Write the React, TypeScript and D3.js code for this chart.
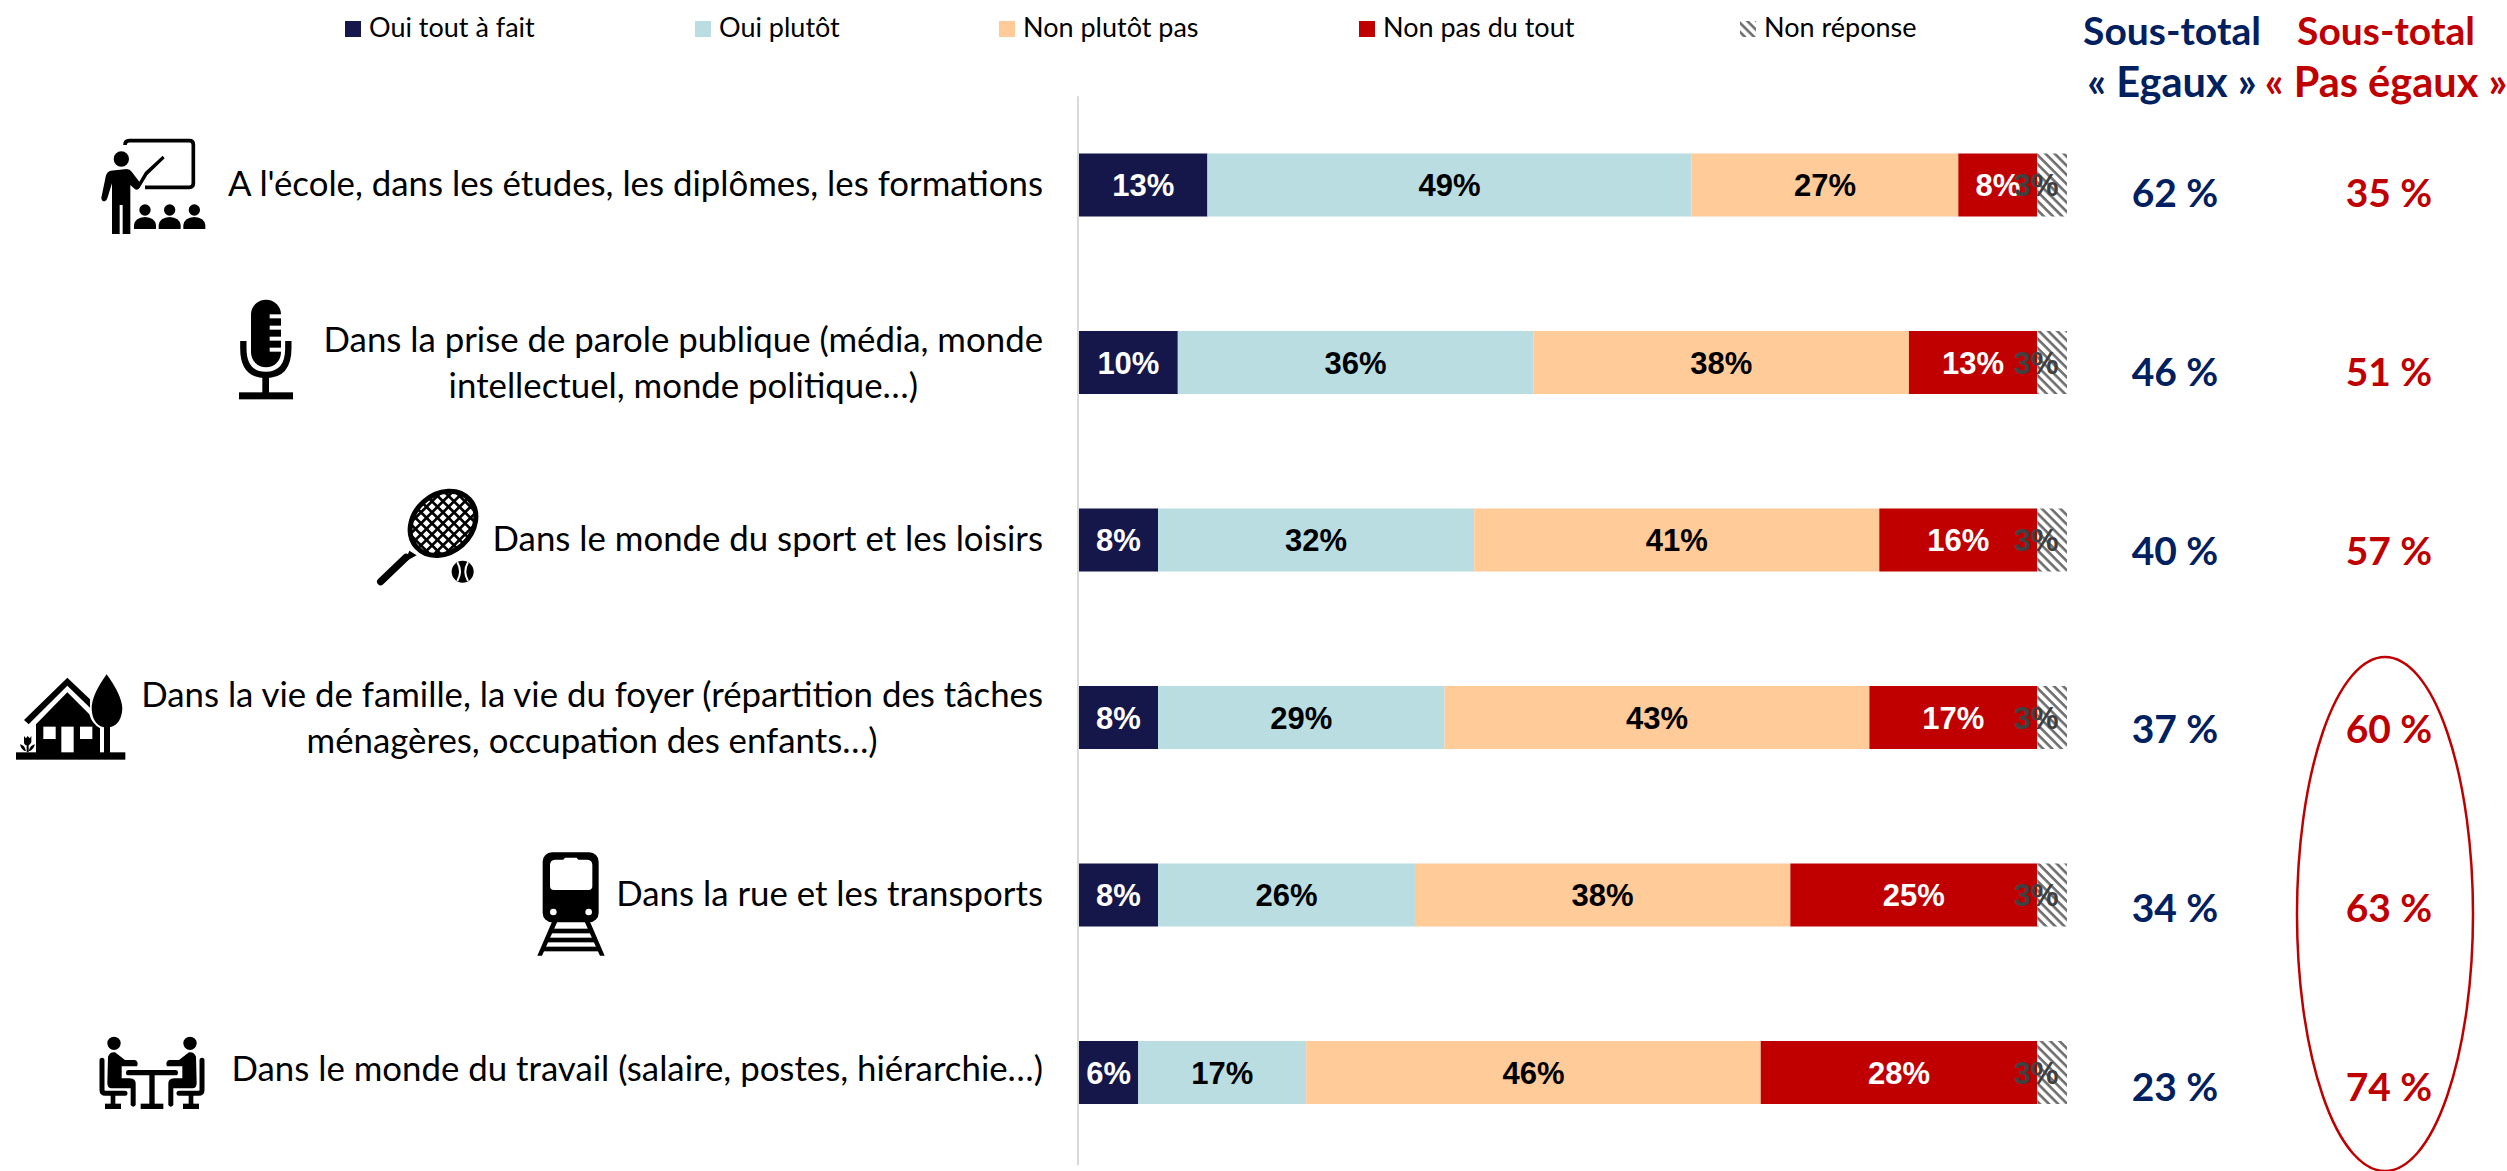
import React, { useEffect, useRef } from 'react';
import * as d3 from 'd3';

const WIDTH = 2507, HEIGHT = 1171;

const categories = ['ecole', 'parole', 'sport', 'famille', 'rue', 'travail'];
const categoryLines = [
  ["A l'école, dans les études, les diplômes, les formations"],
  ['Dans la prise de parole publique (média, monde', 'intellectuel, monde politique…)'],
  ['Dans le monde du sport et les loisirs'],
  ['Dans la vie de famille, la vie du foyer (répartition des tâches', 'ménagères, occupation des enfants…)'],
  ['Dans la rue et les transports'],
  ['Dans le monde du travail (salaire, postes, hiérarchie…)'],
];

const seriesKeys = ['ouiTout', 'ouiPlutot', 'nonPlutot', 'nonPas', 'nr'];
const seriesNames = ['Oui tout à fait', 'Oui plutôt', 'Non plutôt pas', 'Non pas du tout', 'Non réponse'];

const ouiTout = [13, 10, 8, 8, 8, 6];
const ouiPlutot = [49, 36, 32, 29, 26, 17];
const nonPlutot = [27, 38, 41, 43, 38, 46];
const nonPas = [8, 13, 16, 17, 25, 28];
const nonReponse = [3, 3, 3, 3, 3, 3];

const sousTotalEgaux = [62, 46, 40, 37, 34, 23];
const sousTotalPasEgaux = [35, 51, 57, 60, 63, 74];

const NAVY = '#15174B', BLUE_TXT = '#002060', RED = '#C00000';
const fills = [NAVY, '#B9DDE0', '#FFCB99', RED, 'url(#hatch)'];
const labelColors = ['#fff', '#000', '#000', '#fff', '#404040'];
const singleLineNudge = [1, 0, 1, 0, 1, -1.5];

const SANS = 'Lato, sans-serif';
const ARIAL = '"Liberation Sans", Arial, sans-serif';

// pictos : coordonnées locales, échelle 1/3
const Teacher = () => (
  <g>
    <path d="M105 45Q105 32 118 32H298Q310 32 310 44V160Q310 172 298 172H165" fill="none" stroke="#000" strokeWidth="11" />
    <circle cx="94" cy="87" r="23" />
    <path d="M62 122Q50 125 47 140L34 203Q34 214 44 214Q50 212 52 205L66 160V312H89V225H98V312H121V165L135 178Q145 182 150 172L172 135L224 85L218 77L165 126L148 155L125 125Q120 117 110 117Z" />
    {[165, 239, 313].map(x => (
      <g key={x}>
        <circle cx={x} cy="240" r="17" />
        <path d={`M${x - 33} 297V285Q${x - 30} 263 ${x} 261Q${x + 30} 263 ${x + 33} 285V297Z`} />
      </g>
    ))}
  </g>
);

const Mic = () => (
  <g>
    <rect x="78" y="14" width="90" height="203" rx="45" />
    {[58, 92, 125, 158].map(y => <rect key={y} x="134" y={y} width="36" height="12" fill="#fff" />)}
    <path d="M55 138V160Q55 240 122 240Q190 240 190 160V138" fill="none" stroke="#000" strokeWidth="19" />
    <rect x="112" y="245" width="20" height="50" />
    <rect x="42" y="292" width="162" height="21" />
  </g>
);

const Racket = () => (
  <g>
    <clipPath id="racketHead"><ellipse cx="219" cy="130" rx="107" ry="87" transform="rotate(-42 219 130)" /></clipPath>
    <ellipse cx="219" cy="130" rx="107" ry="87" transform="rotate(-42 219 130)" fill="#fff" stroke="#000" strokeWidth="15" />
    <g clipPath="url(#racketHead)" stroke="#000" strokeWidth="8">
      {d3.range(-6, 7).map(i => <line key={`a${i}`} x1={219 + i * 33 - 150} y1="-20" x2={219 + i * 33 + 150} y2="280" />)}
      {d3.range(-6, 7).map(i => <line key={`b${i}`} x1={219 + i * 33 + 150} y1="-20" x2={219 + i * 33 - 150} y2="280" />)}
    </g>
    <path d="M118 212L140 226L105 245Z" />
    <line x1="108" y1="232" x2="32" y2="305" stroke="#000" strokeWidth="22" strokeLinecap="round" />
    <circle cx="278" cy="275" r="33" />
    <path d="M262 247Q278 275 262 303M294 247Q278 275 294 303" fill="none" stroke="#fff" strokeWidth="6" />
  </g>
);

const House = () => (
  <g>
    <path d="M42 165L172 38L240 103V128L172 62L56 178Z" />
    <path d="M78 264V178L172 82L238 148Q245 175 270 190V264Z" />
    <rect x="100" y="185" width="37" height="37" fill="#fff" />
    <rect x="210" y="185" width="37" height="37" fill="#fff" />
    <rect x="154" y="185" width="37" height="79" fill="#fff" />
    <path d="M290 28Q245 90 245 130Q247 180 282 187V264H300V187Q335 178 337 130Q335 90 290 28Z" />
    <rect x="18" y="262" width="328" height="22" />
    <path d="M42 213L48 220L53 213L59 220L64 213V232Q60 240 56 241V262H50V241Q42 240 42 232ZM30 238Q44 240 48 258H44Q34 254 30 238ZM75 238Q61 240 56 258H60Q70 254 75 238Z" />
  </g>
);

const Train = () => (
  <g>
    <rect x="38" y="22" width="168" height="210" rx="28" />
    <path d="M60 60Q60 45 75 44H100L105 38H140L145 44H172Q187 45 187 60V123Q187 135 175 135H72Q60 135 60 123Z" fill="#fff" />
    <circle cx="70" cy="201" r="10" fill="#fff" />
    <circle cx="176" cy="201" r="10" fill="#fff" />
    <path d="M66 230L22 332H36L82 230ZM164 230L210 332H224L180 230Z" />
    <rect x="62" y="251" width="122" height="14" />
    <rect x="50" y="278" width="146" height="14" />
    <rect x="38" y="305" width="170" height="14" />
  </g>
);

const Person = () => (
  <g>
    <circle cx="72" cy="55" r="20" />
    <path d="M36 106V195Q36 205 46 205H105" fill="none" stroke="#000" strokeWidth="15" strokeLinecap="round" />
    <rect x="62" y="205" width="14" height="35" />
    <rect x="45" y="236" width="48" height="16" />
    <path d="M54 95Q60 80 75 82L105 105H135Q147 110 141 124H95V160H120Q137 162 137 175V240Q130 250 122 240V190H65Q52 190 52 175Z" />
  </g>
);

const Meeting = () => (
  <g>
    <Person />
    <g transform="translate(372,0) scale(-1,1)"><Person /></g>
    <rect x="108" y="135" width="156" height="16" rx="8" />
    <rect x="178" y="150" width="16" height="90" />
    <rect x="152" y="236" width="68" height="16" />
  </g>
);

const icons = [
  { el: <Teacher />, x: 90, y: 130 },
  { el: <Mic />, x: 225, y: 295 },
  { el: <Racket />, x: 370, y: 480 },
  { el: <House />, x: 10, y: 665 },
  { el: <Train />, x: 530, y: 845 },
  { el: <Meeting />, x: 90, y: 1025 },
];

export default function App() {
  const chartRef = useRef<SVGGElement>(null);

  useEffect(() => {
    const g = d3.select(chartRef.current);
    g.selectAll('*').remove();

    const x = d3.scaleLinear().domain([0, 100]).range([1079, 2067]);
    const y = d3.scaleBand().domain(categories).range([96.25, 1161.25]).paddingInner(0.645).paddingOuter(0.3225);
    const yTotals = d3.scalePoint().domain(categories).range([192, 1086]);

    const rows = categories.map((c, i) => ({
      cat: c,
      ouiTout: ouiTout[i],
      ouiPlutot: ouiPlutot[i],
      nonPlutot: nonPlutot[i],
      nonPas: nonPas[i],
      nr: nonReponse[i],
    }));
    const stacked = d3.stack().keys(seriesKeys)(rows as any);

    // axe vertical
    g.append('line')
      .attr('x1', x(0) - 1).attr('x2', x(0) - 1)
      .attr('y1', y.range()[0]).attr('y2', y.range()[1] + 4)
      .attr('stroke', '#D9D9D9').attr('stroke-width', 2);

    // barres
    stacked.forEach((s, si) => {
      g.append('g').selectAll('rect')
        .data(s)
        .join('rect')
        .attr('x', d => x(d[0]))
        .attr('y', (d: any) => y(d.data.cat))
        .attr('width', d => x(d[1]) - x(d[0]))
        .attr('height', y.bandwidth())
        .attr('fill', fills[si]);
    });

    // étiquettes (le 3% est décalé vers la gauche, comme sur l'original)
    stacked.forEach((s, si) => {
      g.append('g').selectAll('text')
        .data(s)
        .join('text')
        .attr('x', d => (x(d[0]) + x(d[1])) / 2 - (si === 4 ? 16 : 0))
        .attr('y', (d: any) => y(d.data.cat) + y.bandwidth() / 2 + 11)
        .attr('text-anchor', 'middle')
        .attr('font-family', ARIAL)
        .attr('font-weight', 700)
        .attr('font-size', 31)
        .attr('fill', labelColors[si])
        .text(d => `${d[1] - d[0]}%`);
    });

    // libellés
    categoryLines.forEach((lines, i) => {
      const cy = y(categories[i]) + y.bandwidth() / 2;
      const text = g.append('text')
        .attr('font-family', SANS)
        .attr('font-size', 34.8)
        .attr('fill', '#000');
      if (lines.length === 1) {
        text.append('tspan').attr('x', 1043).attr('y', cy + 10 + singleLineNudge[i]).attr('text-anchor', 'end').text(lines[0]);
      } else {
        const w = 1043;
        const holder = text.append('tspan').attr('x', w).attr('y', cy - 10.5).attr('text-anchor', 'end').text(lines[0]);
        const len = (holder.node() as any).getComputedTextLength();
        text.append('tspan').attr('x', w - len / 2).attr('y', cy + 35.5).attr('text-anchor', 'middle').text(lines[1]);
      }
    });

    // légende
    const legendX = d3.scaleOrdinal<number>().domain(seriesKeys).range([345, 695, 999, 1359, 1740]);
    seriesKeys.forEach((k, i) => {
      g.append('rect').attr('x', legendX(k)).attr('y', 21).attr('width', 16).attr('height', 16).attr('fill', fills[i]);
      g.append('text')
        .attr('x', legendX(k) + 24).attr('y', 37)
        .attr('font-family', SANS).attr('font-size', 27).attr('fill', '#000')
        .text(seriesNames[i]);
    });

    // sous-totaux
    const columns = [
      { cx: 2172, vx: 2175, color: BLUE_TXT, head: ['Sous-total', '« Egaux »'], values: sousTotalEgaux },
      { cx: 2386, vx: 2389, color: RED, head: ['Sous-total', '« Pas égaux »'], values: sousTotalPasEgaux },
    ];
    columns.forEach(col => {
      col.head.forEach((h, i) => {
        g.append('text')
          .attr('x', col.cx).attr('y', i === 0 ? 45 : 97)
          .attr('text-anchor', 'middle')
          .attr('font-family', SANS).attr('font-weight', 700).attr('font-size', i === 0 ? 39 : 41.5)
          .attr('fill', col.color)
          .text(h);
      });
      g.append('g').selectAll('text')
        .data(col.values)
        .join('text')
        .attr('x', col.vx)
        .attr('y', (_, i) => yTotals(categories[i]) + 15)
        .attr('text-anchor', 'middle')
        .attr('font-family', SANS).attr('font-weight', 700).attr('font-size', 39)
        .attr('fill', col.color)
        .text(d => `${d} %`);
    });

    // ellipse de mise en avant
    g.append('ellipse')
      .attr('cx', 2385).attr('cy', 914).attr('rx', 88).attr('ry', 257)
      .attr('fill', 'none').attr('stroke', RED).attr('stroke-width', 2.5);
  }, []);

  return (
    <div style={{ position: 'absolute', left: 0, top: 0, width: WIDTH, height: HEIGHT, overflow: 'hidden', background: '#fff' }}>
      <svg width={WIDTH} height={HEIGHT} style={{ display: 'block' }}>
        <defs>
          <pattern id="hatch" width="6.5" height="6.5" patternUnits="userSpaceOnUse" patternTransform="rotate(45)">
            <rect width="6.5" height="6.5" fill="#fff" />
            <rect width="6.5" height="2.6" fill="#6E6E6E" />
          </pattern>
        </defs>
        <g ref={chartRef} />
        {icons.map((ic, i) => (
          <g key={i} transform={`translate(${ic.x},${ic.y}) scale(${1 / 3})`}>{ic.el}</g>
        ))}
      </svg>
    </div>
  );
}
